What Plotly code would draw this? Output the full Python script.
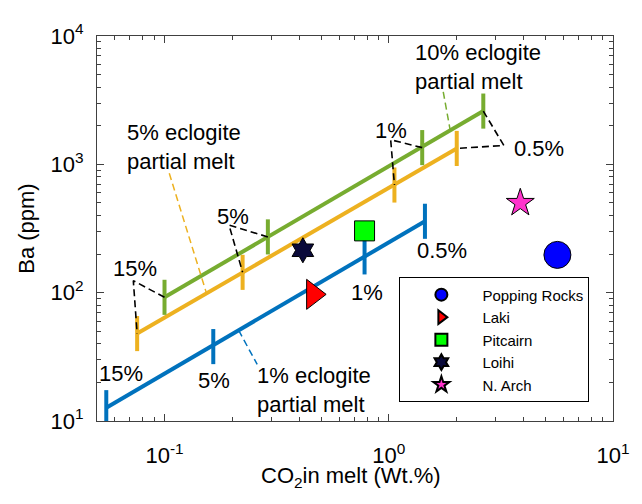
import math
import plotly.graph_objects as go

# ---------------- data ----------------
# melting-degree labels along each model curve
degree_labels = ["15%", "5%", "1%", "0.5%"]

# 1% eclogite partial melt (blue)
melt1_co2 = [0.055, 0.165, 0.78, 1.45]
melt1_ba = [12.7, 38, 190, 360]

# 5% eclogite partial melt (orange)
melt5_co2 = [0.0755, 0.223, 1.06, 2.01]
melt5_ba = [48, 144, 690, 1330]

# 10% eclogite partial melt (green)
melt10_co2 = [0.1, 0.289, 1.41, 2.64]
melt10_ba = [92, 272, 1350, 2600]

# natural samples
samples = ["Popping Rocks", "Laki", "Pitcairn", "Loihi", "N. Arch"]
sample_co2 = [5.65, 0.46, 0.78, 0.414, 3.86]
sample_ba = [197, 97, 303, 214, 500]

x_tickvals = [0.1, 1, 10]
x_ticktext = ["10<sup>-1</sup>", "10<sup>0</sup>", "10<sup>1</sup>"]
y_tickvals = [10, 100, 1000, 10000]
y_ticktext = ["10<sup>1</sup>", "10<sup>2</sup>", "10<sup>3</sup>", "10<sup>4</sup>"]

# ---------------- annotation anchors (layout only) ----------------
corner_co2 = [0.0726, 0.194, 1.02, 3.26]
corner_ba = [124, 336, 1553, 1403]

# ---------------- styles ----------------
FONT = "Liberation Sans, Arial, sans-serif"
BLUE, ORANGE, GREEN = "#0072BD", "#EDB120", "#77AC30"
AX = "#404040"
TICK_F = 1.37

fig = go.Figure()


def tick_segments(xs, ys, f=TICK_F):
    tx, ty = [], []
    for x, y in zip(xs, ys):
        tx += [x, x, None]
        ty += [y / f, y * f, None]
    return tx, ty


for xs, ys, col in [(melt1_co2, melt1_ba, BLUE),
                    (melt5_co2, melt5_ba, ORANGE),
                    (melt10_co2, melt10_ba, GREEN)]:
    fig.add_trace(go.Scatter(x=[xs[0], xs[-1]], y=[ys[0], ys[-1]], mode="lines",
                             line=dict(color=col, width=4), showlegend=False,
                             hoverinfo="skip"))
    tx, ty = tick_segments(xs, ys)
    fig.add_trace(go.Scatter(x=tx, y=ty, mode="lines",
                             line=dict(color=col, width=4), showlegend=False,
                             hoverinfo="skip"))

# black dashed connectors between same melting degree on 5% and 10% curves
cx, cy = [], []
for i in range(len(degree_labels)):
    cx += [melt10_co2[i], corner_co2[i], melt5_co2[i], None]
    cy += [melt10_ba[i], corner_ba[i], melt5_ba[i], None]
fig.add_trace(go.Scatter(x=cx, y=cy, mode="lines",
                         line=dict(color="black", width=1.6, dash="7px,4px"),
                         showlegend=False, hoverinfo="skip"))

# coloured leader lines to curve labels
leaders = [
    ([0.105, 0.154], [851, 98.6], ORANGE),
    ([1.75, 1.88], [3670, 1841], GREEN),
    ([0.214, 0.259], [51, 27.6], BLUE),
]
for lx, ly, col in leaders:
    fig.add_trace(go.Scatter(x=lx, y=ly, mode="lines",
                             line=dict(color=col, width=1.5, dash="7px,4px"),
                             showlegend=False, hoverinfo="skip"))

# samples
sym = ["circle", "triangle-right", "square", "hexagram", "star"]
cols = ["#0000FF", "#FF0000", "#00FF00", "#0A0A3A", "#FF33CC"]
sizes = [27, 26, 20, 19, 21]
for i, name in enumerate(samples):
    fig.add_trace(go.Scatter(x=[sample_co2[i]], y=[sample_ba[i]], mode="markers",
                             name=name,
                             marker=dict(symbol=sym[i], color=cols[i], size=sizes[i],
                                         line=dict(color="black", width=1))))

L = math.log10
ann = []
# upper curve degree labels
up_pos = [(-1.130, 2.189), (-0.696, 2.593), (0.0087, 3.266), (0.670, 3.124)]
for t, (x, y) in zip(degree_labels, up_pos):
    ann.append(dict(x=x, y=y, text=t))
# blue curve degree labels
bl_pos = [(-1.196, 1.374), (-0.778, 1.314), (-0.096, 2.002), (0.239, 2.331)]
for t, (x, y) in zip(degree_labels, bl_pos):
    ann.append(dict(x=x, y=y, text=t))
for a in ann:
    a.update(xref="x", yref="y", showarrow=False, xanchor="center", yanchor="middle",
             font=dict(family=FONT, size=22, color="black"))

curve_labels = [
    ("5% eclogite<br>partial melt", -1.178, 3.139),
    ("10% eclogite<br>partial melt", 0.109, 3.760),
    ("1% eclogite<br>partial melt", -0.596, 1.239),
]
for t, x, y in curve_labels:
    ann.append(dict(x=x, y=y, text=t, xref="x", yref="y", showarrow=False,
                    xanchor="left", yanchor="middle", align="left",
                    font=dict(family=FONT, size=22, color="black")))

# axis titles
ann.append(dict(x=0.4915, y=-0.146, xref="paper", yref="paper", showarrow=False,
                text="CO<sub>2</sub>in melt (Wt.%)", xanchor="center", yanchor="middle",
                font=dict(family=FONT, size=22, color="black")))
ann.append(dict(x=-0.136, y=0.4988, xref="paper", yref="paper", showarrow=False,
                text="Ba (ppm)", textangle=-90, xanchor="center", yanchor="middle",
                font=dict(family=FONT, size=22, color="black")))

axis_common = dict(type="log", showgrid=False, zeroline=False, showline=True,
                   linecolor=AX, linewidth=1, mirror="ticks", ticks="inside",
                   ticklen=7, tickwidth=1, tickcolor=AX, ticklabeloverflow="allow",
                   tickfont=dict(family=FONT, size=22, color="black"),
                   minor=dict(ticks="inside", ticklen=4, tickwidth=1, tickcolor=AX,
                              dtick="D1", showgrid=False))

# the page body adds an 8px offset, so the figure is 8px smaller on each side
fig.update_layout(
    width=634, height=496,
    margin=dict(l=89, r=16, t=12, b=83),
    plot_bgcolor="white", paper_bgcolor="white",
    font=dict(family=FONT, color="black"),
    xaxis=dict(range=[L(0.05), 1], tickvals=x_tickvals, ticktext=x_ticktext,
               ticklabelstandoff=15, **axis_common),
    yaxis=dict(range=[1, 4], tickvals=y_tickvals, ticktext=y_ticktext,
               ticklabelstandoff=8, **axis_common),
    legend=dict(x=0.586, y=0.373, xanchor="left", yanchor="top",
                bgcolor="white", bordercolor="black", borderwidth=1,
                font=dict(family=FONT, size=15, color="black"),
                itemwidth=72, itemsizing="constant", tracegroupgap=0),
    annotations=ann,
)

fig.write_html("out.html")
